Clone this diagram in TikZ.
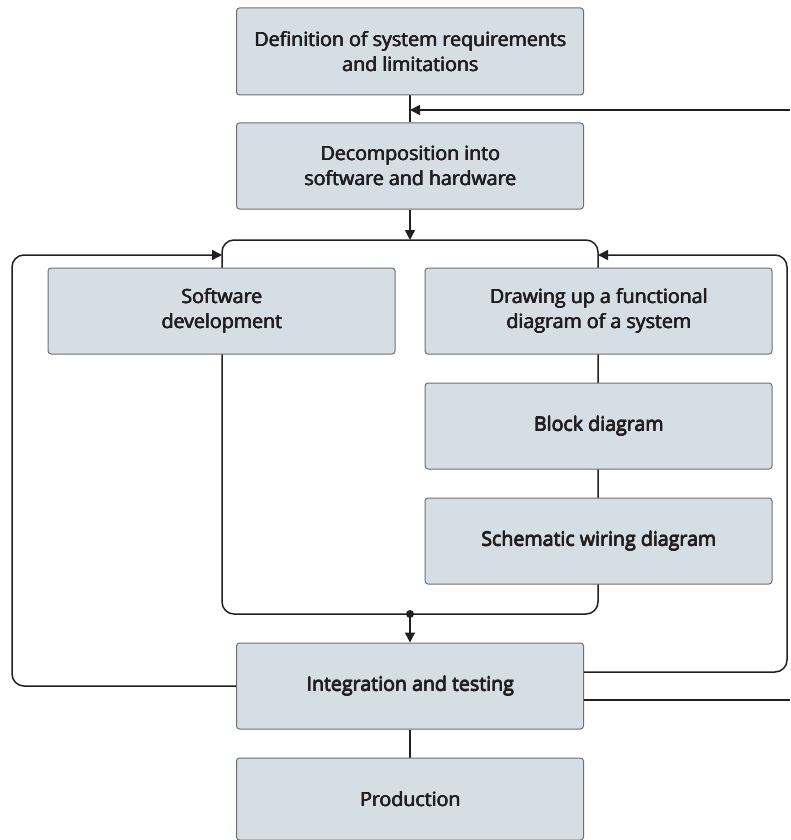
\documentclass[tikz,border=0pt]{standalone}
\usepackage{fontspec}
\setmainfont{Open Sans}
\usetikzlibrary{arrows.meta,calc}
\pgfdeclarelayer{bg}
\pgfsetlayers{bg,main}
\definecolor{boxfill}{HTML}{D4DEE4}
\definecolor{boxline}{HTML}{6F6F6F}
\definecolor{ink}{HTML}{231F20}
\newcommand\mkbox[5][86]{%
  \node[stepbox,minimum height=#1pt] (#2) at (#3,#4) {#5};
  \node[boxtxt,xshift=0.4pt] at (#2) {#5};
  \node[boxtxt,xshift=0.75pt] at (#2) {#5};
  \node[boxtxt,xshift=0.4pt,yshift=0.35pt] at (#2) {#5};}
\begin{document}
\begin{tikzpicture}[x=1pt,y=-1pt,
  boxtxt/.style={align=center,inner sep=0pt,
    font=\fontsize{19.6}{25}\selectfont,text=ink},
  stepbox/.style={boxtxt,draw=boxline,fill=boxfill,line width=1pt,rounded corners=3pt,
    minimum width=347pt,minimum height=86pt},
  conn/.style={draw=ink,line width=1.5pt},
  tip/.style={-{Triangle[length=10pt,width=10pt]}}]
\useasboundingbox (0,0) rectangle (790,840);
% boxes
\mkbox[87]{def}{410}{51.5}{Definition of system requirements\\and limitations}
\mkbox{dec}{410}{166}{Decomposition into\\software and hardware}
\mkbox{sw}{221.5}{311}{Software\\development}
\mkbox{fd}{598.5}{311}{Drawing up a functional\\diagram of a system}
\mkbox{bd}{598.5}{426}{Block diagram}
\mkbox{sch}{598.5}{541}{Schematic wiring diagram}
\mkbox{int}{410}{686}{Integration and testing}
\mkbox[82]{prod}{410}{799}{Production}
% coordinates
\coordinate (btl) at (222,240);
\coordinate (bbr) at (598,614);
\coordinate (btop) at (410,240);
\coordinate (bdot) at (410,614);
\coordinate (lin) at (222,255);
\coordinate (rin) at (598,255);
\coordinate (topin) at (410,110);
\coordinate (topfree) at (790,110);
\coordinate (outfree) at (790,700);
\begin{pgfonlayer}{bg}
  \draw[conn,rounded corners=12pt] (btl) rectangle (bbr);
  \draw[conn] (def.south) -- (dec.north);
  \draw[conn] (int.south) -- (prod.north);
\end{pgfonlayer}
\draw[conn,tip] (dec.south) -- (btop);
\draw[conn,tip] (bdot) -- (int.north);
\fill[ink] (bdot) circle (4pt);
\draw[conn,tip] (topfree) -- (topin);
\draw[conn,tip,rounded corners=12pt] (int.west) -- (12,686) -- (12,255) -- (lin);
\draw[conn,tip,rounded corners=12pt] ($(int.east)+(0,-14)$) -- (787,672) -- (787,255) -- (rin);
\draw[conn] ($(int.east)+(0,14)$) -- (outfree);
\end{tikzpicture}
\end{document}
